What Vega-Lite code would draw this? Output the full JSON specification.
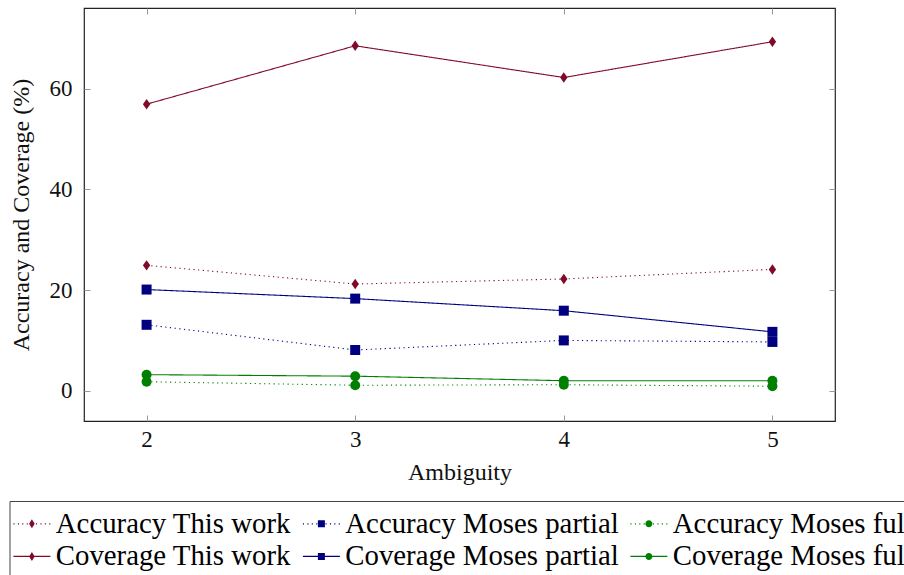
{
  "$schema": "https://vega.github.io/schema/vega-lite/v6.json",
  "width": 751,
  "height": 413,
  "autosize": "none",
  "padding": {"left": 84, "top": 8, "right": 69, "bottom": 154},
  "background": "white",
  "config": {
    "font": "Liberation Serif",
    "view": {"stroke": "#222", "strokeWidth": 1.2},
    "axis": {
      "domain": false,
      "grid": false,
      "tickColor": "#999",
      "tickWidth": 1,
      "labelFont": "Liberation Serif",
      "labelFontSize": 23,
      "labelColor": "#111",
      "titleFont": "Liberation Serif",
      "titleFontSize": 24,
      "titleFontWeight": "normal",
      "titleColor": "#111"
    }
  },
  "data": {
    "values": [
      {"a": 2, "v": 24.9, "s": "Accuracy This work"},
      {"a": 3, "v": 21.2, "s": "Accuracy This work"},
      {"a": 4, "v": 22.2, "s": "Accuracy This work"},
      {"a": 5, "v": 24.1, "s": "Accuracy This work"},
      {"a": 2, "v": 13.1, "s": "Accuracy Moses partial"},
      {"a": 3, "v": 8.1, "s": "Accuracy Moses partial"},
      {"a": 4, "v": 10.0, "s": "Accuracy Moses partial"},
      {"a": 5, "v": 9.7, "s": "Accuracy Moses partial"},
      {"a": 2, "v": 1.8, "s": "Accuracy Moses full"},
      {"a": 3, "v": 1.1, "s": "Accuracy Moses full"},
      {"a": 4, "v": 1.2, "s": "Accuracy Moses full"},
      {"a": 5, "v": 0.9, "s": "Accuracy Moses full"},
      {"a": 2, "v": 56.9, "s": "Coverage This work"},
      {"a": 3, "v": 68.5, "s": "Coverage This work"},
      {"a": 4, "v": 62.2, "s": "Coverage This work"},
      {"a": 5, "v": 69.3, "s": "Coverage This work"},
      {"a": 2, "v": 20.1, "s": "Coverage Moses partial"},
      {"a": 3, "v": 18.3, "s": "Coverage Moses partial"},
      {"a": 4, "v": 15.9, "s": "Coverage Moses partial"},
      {"a": 5, "v": 11.7, "s": "Coverage Moses partial"},
      {"a": 2, "v": 3.2, "s": "Coverage Moses full"},
      {"a": 3, "v": 2.9, "s": "Coverage Moses full"},
      {"a": 4, "v": 2.0, "s": "Coverage Moses full"},
      {"a": 5, "v": 2.0, "s": "Coverage Moses full"}
    ]
  },
  "layer": [
    {
      "mark": {"type": "line", "strokeWidth": 1.1},
      "encoding": {
        "x": {
          "field": "a", "type": "quantitative",
          "scale": {"domain": [1.7, 5.3], "nice": false, "zero": false},
          "axis": {"orient": "bottom", "values": [2, 3, 4, 5], "format": "d", "title": "Ambiguity", "tickSize": -6, "labelPadding": 13, "titlePadding": 9}
        },
        "y": {
          "field": "v", "type": "quantitative",
          "scale": {"domain": [-6, 76], "nice": false, "zero": false},
          "axis": {"orient": "left", "values": [0, 20, 40, 60], "format": "d", "title": "Accuracy and Coverage (%)", "tickSize": -6, "labelPadding": 18, "titlePadding": 16}
        },
        "color": {
          "field": "s", "type": "nominal",
          "scale": {
            "domain": ["Accuracy This work", "Accuracy Moses partial", "Accuracy Moses full", "Coverage This work", "Coverage Moses partial", "Coverage Moses full"],
            "range": ["#800a2a", "#000080", "#008000", "#800a2a", "#000080", "#008000"]
          },
          "legend": {
            "orient": "none",
            "legendX": -74.5,
            "legendY": 493,
            "direction": "horizontal",
            "columns": 3,
            "title": null,
            "strokeColor": "#444",
            "fillColor": "white",
            "padding": 8,
            "labelFont": "Liberation Serif",
            "labelFontSize": 28.8,
            "labelColor": "black",
            "labelLimit": 400,
            "symbolSize": 784,
            "labelOffset": 9.5,
            "columnPadding": 10.5,
            "rowPadding": 3,
            "encode": {
              "symbols": {
                "update": {
                  "shape": {"signal": "(indexof(datum.value, 'Accuracy') === 0 ? 'M-1.32,-0.046L-1.24,-0.046L-1.24,0.046L-1.32,0.046ZM-1,-0.046L-0.92,-0.046L-0.92,0.046L-1,0.046ZM-0.69,-0.046L-0.61,-0.046L-0.61,0.046L-0.69,0.046ZM-0.37,-0.046L-0.29,-0.046L-0.29,0.046L-0.37,0.046ZM0.29,-0.046L0.37,-0.046L0.37,0.046L0.29,0.046ZM0.61,-0.046L0.69,-0.046L0.69,0.046L0.61,0.046ZM0.92,-0.046L1,-0.046L1,0.046L0.92,0.046ZM1.24,-0.046L1.32,-0.046L1.32,0.046L1.24,0.046Z' : 'M-1.32,-0.04L1.32,-0.04L1.32,0.04L-1.32,0.04Z') + (indexof(datum.value, 'This work') >= 0 ? 'M0,-0.32L0.2,0L0,0.32L-0.2,0Z' : (indexof(datum.value, 'partial') >= 0 ? 'M-0.25,-0.25L0.25,-0.25L0.25,0.25L-0.25,0.25Z' : 'M0.25,0A0.25,0.25,0,1,1,-0.25,0A0.25,0.25,0,1,1,0.25,0Z'))"},
                  "fill": {"signal": "scale('color', datum.value)"},
                  "fillOpacity": {"value": 1},
                  "opacity": {"value": 1},
                  "stroke": {"value": "transparent"},
                  "strokeWidth": {"value": 0}
                }
              }
            }
          }
        },
        "strokeDash": {
          "field": "s", "type": "nominal",
          "scale": {
            "domain": ["Accuracy This work", "Accuracy Moses partial", "Accuracy Moses full", "Coverage This work", "Coverage Moses partial", "Coverage Moses full"],
            "range": [[1.2, 3.5], [1.2, 3.5], [1.2, 3.5], [1, 0], [1, 0], [1, 0]]
          },
          "legend": null
        }
      }
    },
    {
      "transform": [{"filter": "indexof(datum.s, 'This work') >= 0"}],
      "mark": {"type": "point", "filled": true, "opacity": 1, "strokeWidth": 0, "shape": "M0,-1L0.7,0L0,1L-0.7,0Z", "size": 110, "color": "#800a2a"},
      "encoding": {
        "x": {
          "field": "a", "type": "quantitative",
          "axis": {"orient": "top", "values": [2, 3, 4, 5], "labels": false, "title": null, "tickSize": -6}
        },
        "y": {
          "field": "v", "type": "quantitative",
          "axis": {"orient": "right", "values": [0, 20, 40, 60], "labels": false, "title": null, "tickSize": -6}
        }
      }
    },
    {
      "transform": [{"filter": "indexof(datum.s, 'partial') >= 0"}],
      "mark": {"type": "point", "filled": true, "opacity": 1, "strokeWidth": 0, "shape": "square", "size": 100, "color": "#000080"},
      "encoding": {
        "x": {"field": "a", "type": "quantitative", "axis": null},
        "y": {"field": "v", "type": "quantitative", "axis": null}
      }
    },
    {
      "transform": [{"filter": "indexof(datum.s, 'full') >= 0"}],
      "mark": {"type": "point", "filled": true, "opacity": 1, "strokeWidth": 0, "shape": "circle", "size": 100, "color": "#008000"},
      "encoding": {
        "x": {"field": "a", "type": "quantitative", "axis": null},
        "y": {"field": "v", "type": "quantitative", "axis": null}
      }
    }
  ],
  "resolve": {"axis": {"x": "independent", "y": "independent"}}
}
